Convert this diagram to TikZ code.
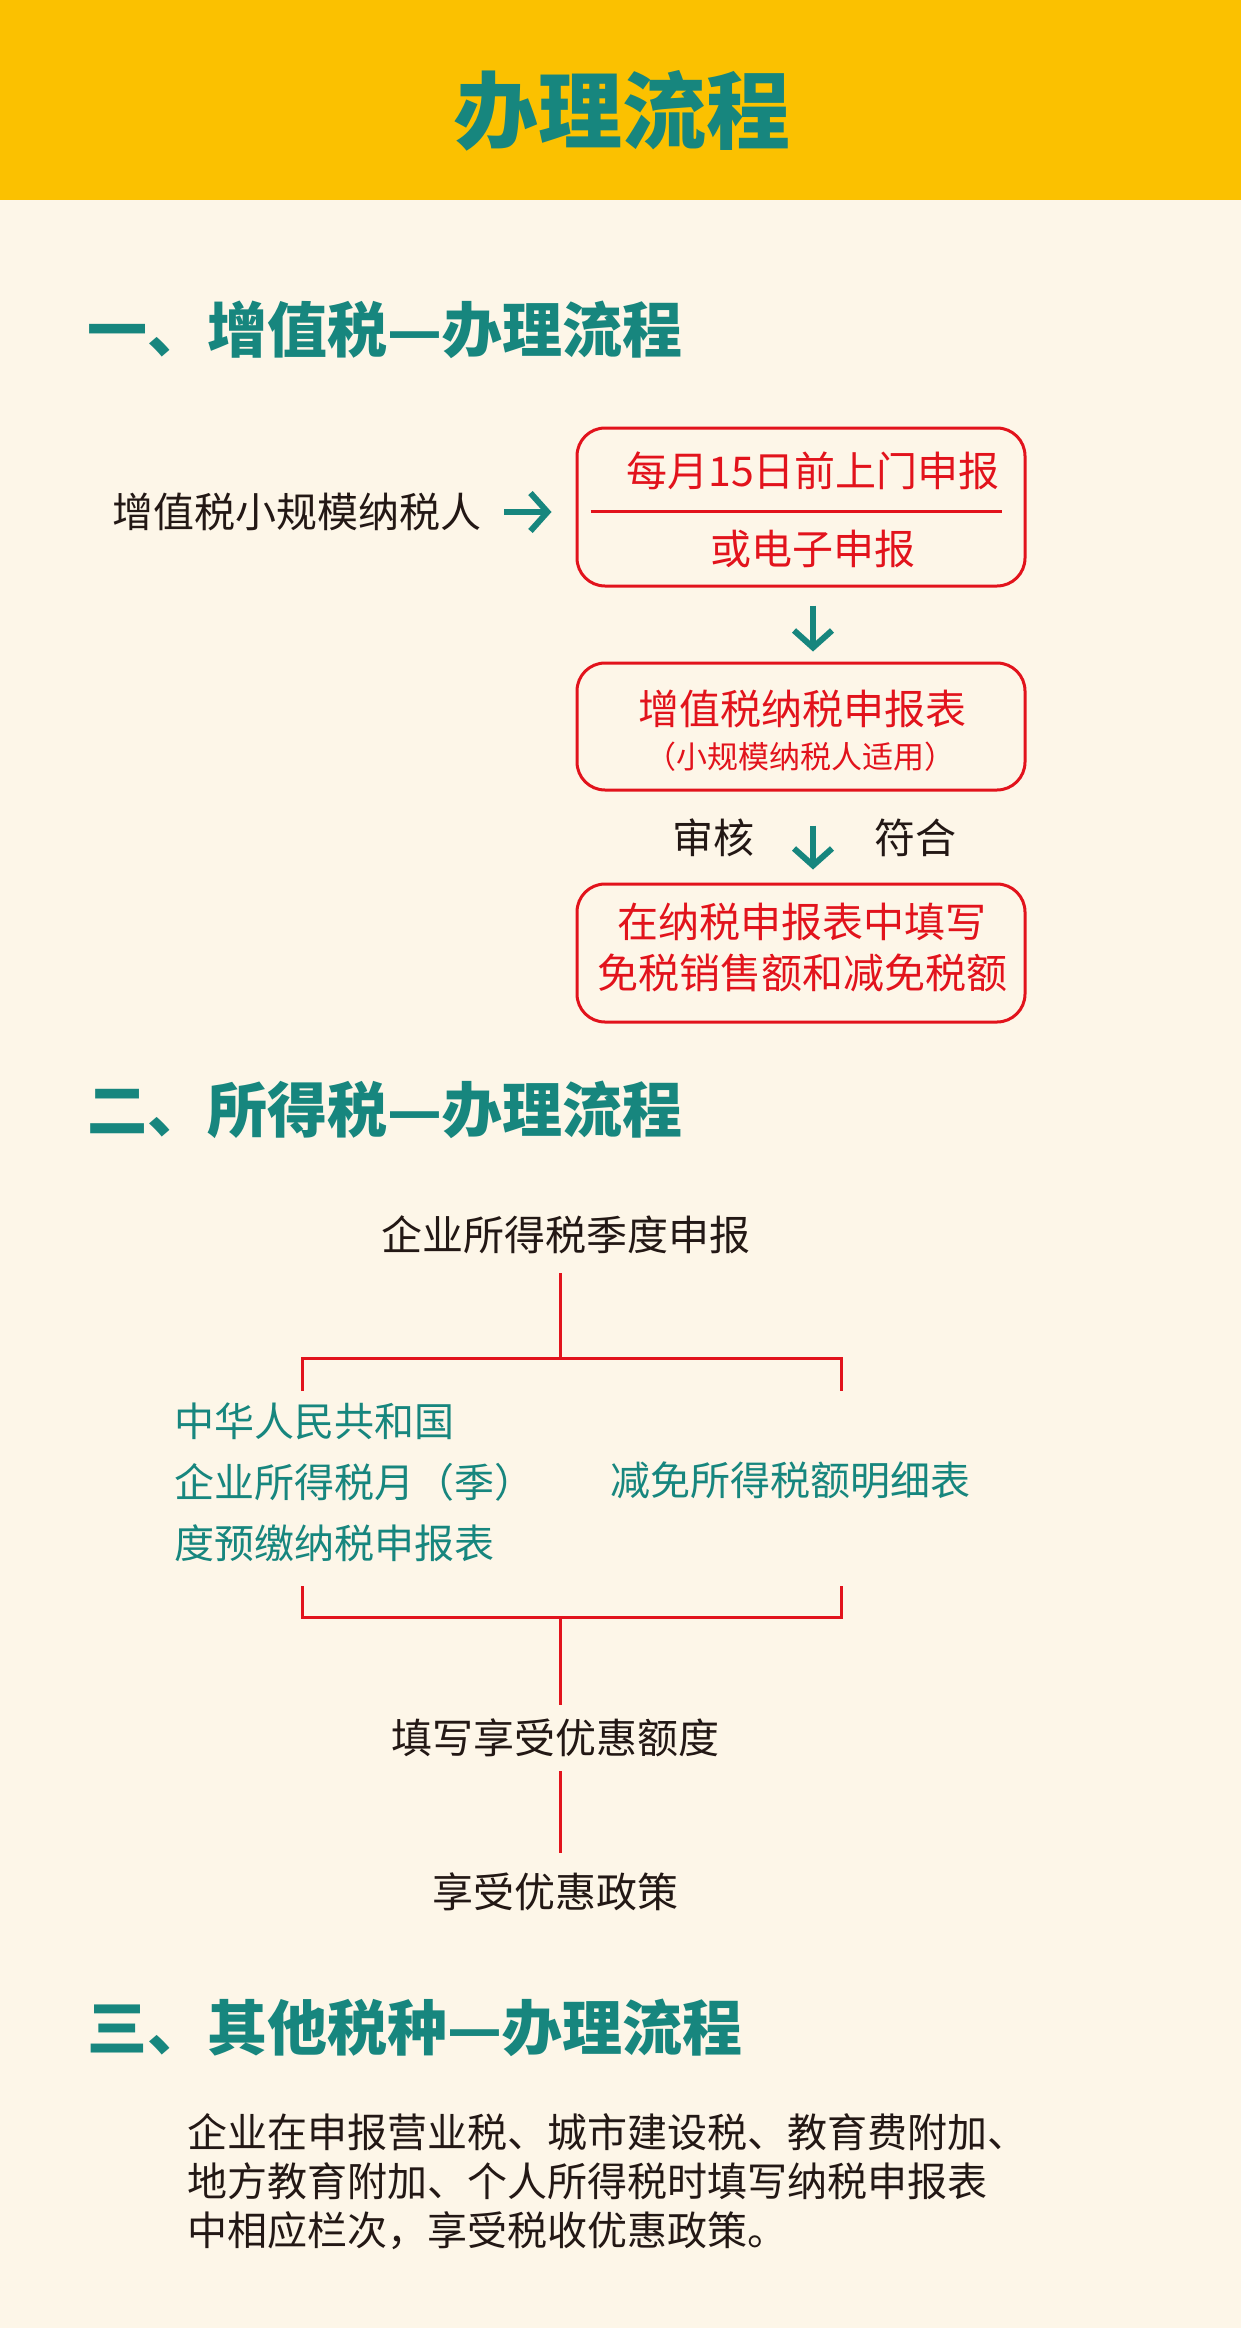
\documentclass[tikz,border=0pt]{standalone}
\usepackage{fontspec}
\setmainfont{Noto Sans CJK SC}
\usetikzlibrary{arrows.meta}
\definecolor{bandyellow}{RGB}{251,193,0}
\definecolor{cream}{RGB}{253,246,232}
\definecolor{teal}{RGB}{23,134,126}
\definecolor{redline}{RGB}{226,19,28}
\definecolor{ink}{RGB}{35,24,21}
\tikzset{
  body/.style={font=\fontsize{41}{49}\selectfont, text=ink, inner sep=0pt},
  redtxt/.style={font=\fontsize{41}{49}\selectfont, text=redline, inner sep=0pt},
  tealtxt/.style={font=\fontsize{40}{61}\selectfont, text=teal, inner sep=0pt},
  head/.style={font=\fontsize{60}{70}\selectfont\bfseries, text=teal, anchor=west, inner sep=0pt},
  redbox/.style={draw=redline, line width=3pt, rounded corners=28pt, minimum width=448pt, inner sep=0pt},
  arr/.style={draw=teal, line width=6pt, -{Straight Barb[length=17pt,width=38pt]}},
  tree/.style={draw=redline, line width=3pt},
}
\begin{document}
\begin{tikzpicture}[x=1pt,y=-1pt]
\useasboundingbox (0,0) rectangle (1241,2328);
\fill[cream] (0,0) rectangle (1241,2328);
\fill[bandyellow] (0,0) rectangle (1241,200);
\node[font=\fontsize{84}{90}\selectfont\bfseries, text=teal, inner sep=0pt] (title) at (622,111) {办理流程};

% Section 1
\node[head] (h1) at (87,330) {一、增值税—办理流程};
\node[body, anchor=west] (src) at (112,512) {增值税小规模纳税人};

\node[redbox, minimum height=158pt] (b1) at (801,507) {};
\node[redtxt] (b1t) at (813,471) {每月15日前上门申报};
\node[redtxt] (b1b) at (813,549) {或电子申报};
\draw[redline, line width=3pt] ([xshift=15pt]b1.west |- 0,511) coordinate (d1) -- ([xshift=-25pt]b1.east |- 0,511) coordinate (d2);

\node[redbox, minimum height=127pt] (b2) at (801,726.5) {};
\node[redtxt] (b2t) at (802,709) {增值税纳税申报表};
\node[font=\fontsize{31}{36}\selectfont, text=redline, inner sep=0pt] (b2s) at (800,757) {（小规模纳税人适用）};

\node[body] (sh) at (713,838) {审核};
\node[body] (fh) at (915,838) {符合};

\node[redbox, minimum height=138pt] (b3) at (801,953) {};
\node[redtxt] (b3t) at (802,922) {在纳税申报表中填写};
\node[redtxt] (b3b) at (802,973) {免税销售额和减免税额};

\draw[arr, shorten <=23pt, shorten >=24pt] (src.east) -- (src.east -| b1.west);
\draw[arr, shorten <=18pt, shorten >=10pt] ([xshift=12pt]b1.south) -- ([xshift=12pt]b2.north);
\draw[arr, shorten <=34pt, shorten >=13pt] ([xshift=12pt]b2.south) -- ([xshift=12pt]b3.north);

% Section 2
\node[head] (h2) at (87,1110) {二、所得税—办理流程};
\node[body] (q) at (566,1235) {企业所得税季度申报};
\coordinate (j1) at (560,1358);
\coordinate (j1l) at (302,1358);
\coordinate (j1r) at (841,1358);
\coordinate (j1ld) at (302,1391);
\coordinate (j1rd) at (841,1391);
\node[tealtxt, anchor=west, align=left] (left) at (174,1482) {中华人民共和国\\企业所得税月（季）\\度预缴纳税申报表};
\node[tealtxt, anchor=west] (right) at (610,1480) {减免所得税额明细表};
\coordinate (j2lu) at (302,1586);
\coordinate (j2ru) at (841,1586);
\coordinate (j2l) at (302,1617);
\coordinate (j2r) at (841,1617);
\coordinate (j2) at (560,1617);
\node[body] (f1) at (555,1738) {填写享受优惠额度};
\node[body] (f2) at (555,1892) {享受优惠政策};

\draw[tree, shorten <=19pt] (q.south -| j1) -- (j1);
\draw[tree] (j1ld) -- (j1l) -- (j1r) -- (j1rd);
\draw[tree] (j2lu) -- (j2l) -- (j2r) -- (j2ru);
\draw[tree, shorten >=14pt] (j2) -- (j2 |- f1.north);
\draw[tree, shorten <=14pt, shorten >=20pt] (f1.south -| j2) -- (f2.north -| j2);

% Section 3
\node[head] (h3) at (87,2028) {三、其他税种—办理流程};
\node[font=\fontsize{40}{49}\selectfont, text=ink, inner sep=0pt, anchor=west, align=left] (para) at (187,2182)
  {企业在申报营业税、城市建设税、教育费附加、\\地方教育附加、个人所得税时填写纳税申报表\\中相应栏次，享受税收优惠政策。};
\end{tikzpicture}
\end{document}
